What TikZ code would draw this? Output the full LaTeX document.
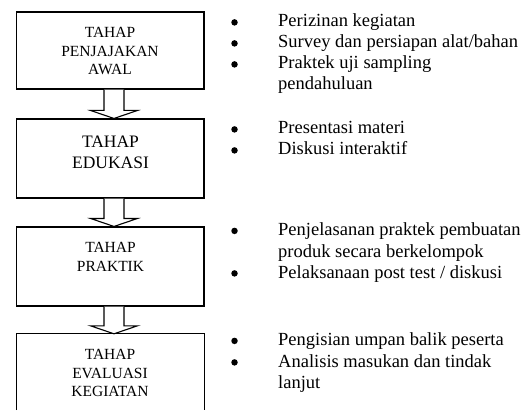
\documentclass[tikz,border=0pt]{standalone}
\usepackage{fontspec}
\setmainfont{Liberation Serif}
\usetikzlibrary{calc}
\tikzset{
  stagebox/.style={rectangle, draw=black, line width=1.1pt, minimum width=187.5pt, inner sep=0pt},
  boxline/.style={draw=black, line width=1.1pt},
  stagetext/.style={align=center, inner sep=0pt, font=\fontsize{15.5}{18.5}\selectfont},
  bigstagetext/.style={align=center, inner sep=0pt, font=\fontsize{17.5}{21}\selectfont},
  bul/.style={circle, fill=black, minimum size=6.5pt, inner sep=0pt, yshift=4.6pt},
  itm/.style={anchor=base west, inner sep=0pt, font=\fontsize{18.5}{21}\selectfont},
  blockarr/.style={draw=black, fill=white, line width=1.1pt, line join=miter}
}
\newcommand\flowarrow[2]{%
  \draw[blockarr] ($(#1.south)+(-6.25,0)$) -- ($(#2.north)+(-6.25,8)$) -- ($(#2.north)+(-19.75,8)$) -- ($(#2.north)+(3.75,0)$) -- ($(#2.north)+(27.25,8)$) -- ($(#2.north)+(13.75,8)$) -- ($(#1.south)+(13.75,0)$);}
\begin{document}
\begin{tikzpicture}[x=1pt,y=1pt]
\useasboundingbox (0,0) rectangle (529,410);
\fill[white] (0,0) rectangle (529,410);

% stage boxes
\node[stagebox, minimum height=77pt] (b1) at (110.25,359.5) {};
\node[stagebox, minimum height=79pt] (b2) at (110.25,251.5) {};
\node[stagebox, minimum height=79pt] (b3) at (110.25,143.5) {};
\node[rectangle, minimum width=187.5pt, minimum height=76pt, inner sep=0pt] (b4) at (110.25,38) {};
\draw[boxline] (b4.south west) -- (b4.north west) -- (b4.north east) -- (b4.south east);

% box texts
\node[stagetext] (t1) at (110,358.5) {TAHAP\\PENJAJAKAN\\AWAL};
\node[bigstagetext] (t2) at (110.5,257.5) {TAHAP\\EDUKASI};
\node[stagetext] (t3) at (110.5,153) {TAHAP\\PRAKTIK};
\node[stagetext] (t4) at (110,36.7) {TAHAP\\EVALUASI\\KEGIATAN};

% block arrows
\flowarrow{b1}{b2}
\flowarrow{b2}{b3}
\flowarrow{b3}{b4}

% list 1
\node[bul] (p1) at (234.5,383) {};
\node[itm] (q1) at (278,383) {Perizinan kegiatan};
\node[bul] (p2) at (234.5,362) {};
\node[itm] (q2) at (278,362) {Survey dan persiapan alat/bahan};
\node[bul] (p3) at (234.5,341) {};
\node[itm] (q3) at (278,341) {Praktek uji sampling};
\node[itm] (q3b) at (278,320) {pendahuluan};

% list 2
\node[bul] (p4) at (234.5,276) {};
\node[itm] (q4) at (278,276) {Presentasi materi};
\node[bul] (p5) at (234.5,255) {};
\node[itm] (q5) at (278,255) {Diskusi interaktif};

% list 3
\node[bul] (p6) at (234.5,174.5) {};
\node[itm] (q6) at (278,174.5) {Penjelasanan praktek pembuatan};
\node[itm] (q6b) at (278,153) {produk secara berkelompok};
\node[bul] (p7) at (234.5,132) {};
\node[itm] (q7) at (278,132) {Pelaksanaan post test / diskusi};

% list 4
\node[bul] (p8) at (234.5,64.5) {};
\node[itm] (q8) at (278,64.5) {Pengisian umpan balik peserta};
\node[bul] (p9) at (234.5,43) {};
\node[itm] (q9) at (278,43) {Analisis masukan dan tindak};
\node[itm] (q9b) at (278,22) {lanjut};
\end{tikzpicture}
\end{document}
